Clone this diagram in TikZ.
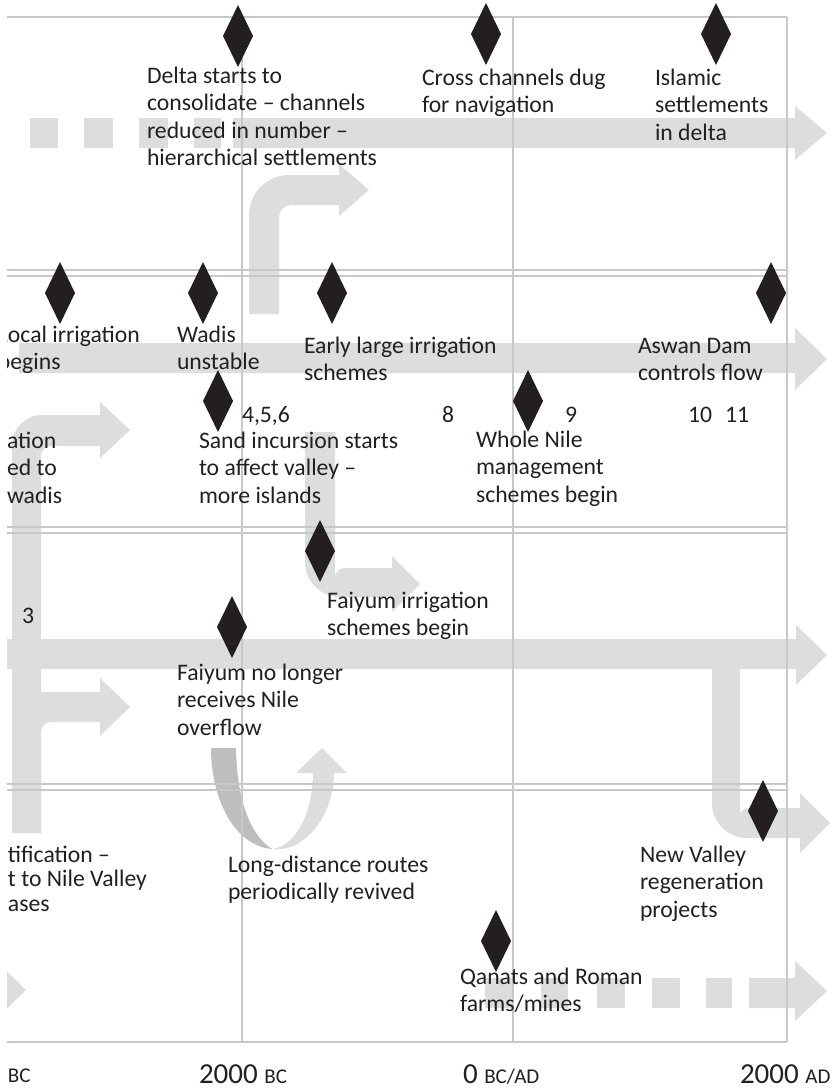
\documentclass[tikz,border=0pt]{standalone}
\usepackage{fontspec}
\setmainfont{Carlito}
\usetikzlibrary{shapes.geometric}
\definecolor{ink}{HTML}{231F20}
\definecolor{gridc}{HTML}{C7C8CA}
\definecolor{arrowc}{HTML}{DCDDDE}
\definecolor{arrowd}{HTML}{BCBEC0}
\newcommand\smallera[1]{{\fontsize{21}{25}\selectfont #1}}
\begin{document}
\begin{tikzpicture}[x=1pt,y=-1pt,
  lbl/.style={anchor=base west, inner sep=0pt, outer sep=0pt, align=left, text=ink,
              font=\fontsize{23.7}{27.5}\selectfont},
  axl/.style={anchor=base west, inner sep=0pt, outer sep=0pt, text=ink,
              font=\fontsize{29}{34}\selectfont},
  dia/.style={diamond, fill=ink, draw=none, inner sep=0pt, outer sep=0pt,
              minimum width=30pt, minimum height=62pt},
  band/.style={fill=arrowc, draw=none},
  gridline/.style={draw=gridc, line width=2pt}]
\useasboundingbox (0,0) rectangle (837,1090);
\begin{scope}
\clip (7,0) rectangle (837,1090);
% ---- big grey arrows ----
% band 1 (dashed then solid)
\fill[band] (30,118) rectangle (58,148);
\fill[band] (84,118) rectangle (113,148);
\fill[band] (139,118) rectangle (168,148);
\fill[band] (194,118) rectangle (221,148);
\fill[band] (233,118) -- (795,118) -- (795,106) -- (827,133) -- (795,160) -- (795,148) -- (233,148) -- cycle;
% arrow 7
\fill[band] (249,314) -- (249,215) arc[start angle=180, end angle=270, radius=40]
  -- (339,175) -- (339,164) -- (369,190) -- (339,216) -- (339,205) -- (291,205)
  arc[start angle=270, end angle=180, radius=12] -- (279,314) -- cycle;
% band 2
\fill[band] (19,343) -- (795,343) -- (795,328) -- (827,359) -- (795,390) -- (795,373) -- (19,373) -- cycle;
% left stem, upper branch
\fill[band] (12,833) -- (12,445) arc[start angle=180, end angle=270, radius=30]
  -- (100,415) -- (100,402) -- (130,430) -- (100,458) -- (100,446) -- (51,446)
  arc[start angle=270, end angle=180, radius=10] -- (41,833) -- cycle;
% left stem, lower branch
\fill[band] (12,833) -- (12,722) arc[start angle=180, end angle=270, radius=30]
  -- (100,692) -- (100,678) -- (130,707) -- (100,736) -- (100,722) -- (51,722)
  arc[start angle=270, end angle=180, radius=10] -- (41,833) -- cycle;
% Faiyum irrigation arrow
\fill[band] (305,432) -- (305,562) arc[start angle=180, end angle=90, radius=35]
  -- (392,597) -- (392,612) -- (420,584) -- (392,556) -- (392,568) -- (345,568)
  arc[start angle=270, end angle=180, radius=10] -- (335,432) -- cycle;
% band 3
\fill[band] (0,639) -- (796,639) -- (796,625) -- (827,655) -- (796,685) -- (796,669) -- (0,669) -- cycle;
% right branch down to band 4
\fill[band] (712,669) -- (712,803) arc[start angle=180, end angle=90, radius=35]
  -- (800,838) -- (800,853) -- (830,823) -- (800,793) -- (800,808) -- (748,808)
  arc[start angle=270, end angle=180, radius=8] -- (740,669) -- cycle;
% U-turn arrow
\fill[arrowd] (211,748) -- (236,748) .. controls (237,800) and (250,835) .. (272,849)
  .. controls (235,846) and (211,800) .. (211,748) -- cycle;
\fill[band] (272,849) .. controls (300,845) and (313,805) .. (313,773) -- (296,773)
  -- (322,748) -- (347,773) -- (334,773) .. controls (334,815) and (305,853) .. (272,849) -- cycle;
% band 4 partial head at left
\fill[band] (-5,960) -- (26,990) -- (-5,1020) -- cycle;
% band 4 dashed arrow
\fill[band] (485,978) rectangle (513,1008);
\fill[band] (541,978) rectangle (568,1008);
\fill[band] (597,978) rectangle (625,1008);
\fill[band] (652,978) rectangle (680,1008);
\fill[band] (706,978) rectangle (732,1008);
\fill[band] (749,978) -- (795,978) -- (795,961) -- (827,991) -- (795,1021) -- (795,1008) -- (749,1008) -- cycle;
% ---- grid ----
\draw[gridline] (7,17) -- (787,17);
\draw[gridline] (7,270) -- (787,270);
\draw[gridline] (7,276) -- (787,276);
\draw[gridline] (7,527) -- (787,527);
\draw[gridline] (7,533) -- (787,533);
\draw[gridline] (7,784) -- (787,784);
\draw[gridline] (7,790) -- (787,790);
\draw[gridline] (7,1042) -- (787,1042);
\draw[gridline] (242,17) -- (242,1042);
\draw[gridline] (513,17) -- (513,1042);
\draw[gridline] (787,17) -- (787,1042);
% ---- event diamonds ----
\node[dia] (d1) at (238,36) {};
\node[dia] (d2) at (486,34) {};
\node[dia] (d3) at (716,34) {};
\node[dia] (d4) at (60,293) {};
\node[dia] (d5) at (203,293) {};
\node[dia] (d6) at (332,293) {};
\node[dia] (d7) at (771,293) {};
\node[dia] (d8) at (218,401) {};
\node[dia] (d9) at (528,401) {};
\node[dia] (d10) at (320,551) {};
\node[dia] (d11) at (232,627) {};
\node[dia] (d12) at (763,811) {};
\node[dia] (d13) at (496,941) {};
% ---- labels (anchor = baseline of last line) ----
\node[lbl] (tdelta) at (147,165.5) {Delta starts to\\consolidate – channels\\reduced in number –\\hierarchical settlements};
\node[lbl] (tcross) at (422,112.5) {Cross channels dug\\for navigation};
\node[lbl] (tislam) at (655,140) {Islamic\\settlements\\in delta};
\node[lbl] (tlocal) at (-2,369.5) {Local irrigation\\begins};
\node[lbl] (twadis) at (177,369.5) {Wadis\\unstable};
\node[lbl] (tearly) at (304,380.5) {Early large irrigation\\schemes};
\node[lbl] (taswan) at (638,380.5) {Aswan Dam\\controls flow};
\node[lbl] (n456) at (242,422) {4,5,6};
\node[lbl] (n8) at (442,422) {8};
\node[lbl] (n9) at (565,422) {9};
\node[lbl] (n10) at (688,422) {10};
\node[lbl] (n11) at (725,422) {11};
\node[lbl] (tsand) at (199,503) {Sand incursion starts\\to affect valley –\\more islands};
\node[lbl] (twhole) at (476,502) {Whole Nile\\management\\schemes begin};
\node[lbl] (tation) at (7,503) {ation\\ed to\\wadis};
\node[lbl] (n3) at (22,623) {3};
\node[lbl] (tfirr) at (327,635.5) {Faiyum irrigation\\schemes begin};
\node[lbl] (tfno) at (177,735) {Faiyum no longer\\receives Nile\\overflow};
\node[lbl, font=\fontsize{23.7}{24.5}\selectfont] (tdes) at (8,911) {tification –\\t to Nile Valley\\ases};
\node[lbl] (tlong) at (228,899.5) {Long-distance routes\\periodically revived};
\node[lbl] (tnew) at (640,917) {New Valley\\regeneration\\projects};
\node[lbl] (tqan) at (460,1011.5) {Qanats and Roman\\farms/mines};
\end{scope}
% ---- time axis ----
\node[axl] (a0) at (8,1082) {\smallera{BC}};
\node[axl] (a1) at (199,1083) {2000 \smallera{BC}};
\node[axl] (a2) at (463,1083) {0 \smallera{BC/AD}};
\node[axl] (a3) at (740,1083) {2000 \smallera{AD}};
\end{tikzpicture}
\end{document}
